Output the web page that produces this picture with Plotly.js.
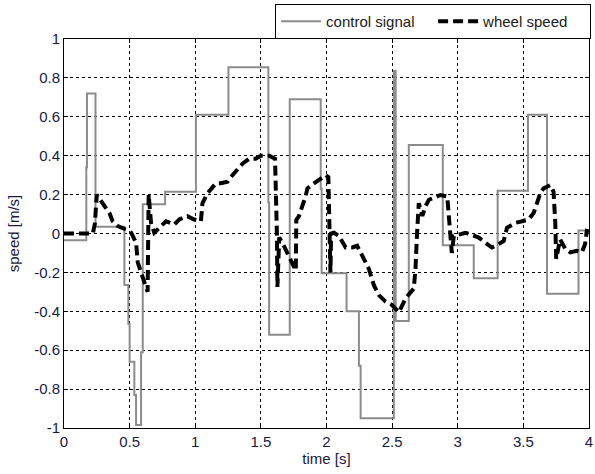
<!DOCTYPE html>
<html>
<head>
<meta charset="utf-8">
<script src="https://cdn.plot.ly/plotly-3.0.1.min.js"></script>
<style>html,body{margin:0;padding:0;background:#fff;}#chart{width:595px;height:474px;}</style>
</head>
<body>
<div id="chart"></div>
<script>
// control signal (step, held until next time)
var controlTime = [0, 0.17, 0.175, 0.24, 0.46, 0.49, 0.50, 0.536, 0.549, 0.587, 0.60, 0.77, 1.005, 1.253, 1.557, 1.563, 1.72, 1.956, 1.963, 2.153, 2.247, 2.26, 2.513, 2.527, 2.627, 2.886, 3.122, 3.304, 3.535, 3.68, 3.92, 4.0];
var controlValue = [-0.035, 0.34, 0.72, 0.035, -0.265, -0.465, -0.66, -0.83, -0.985, -0.61, 0.15, 0.215, 0.61, 0.855, 0.16, -0.52, 0.69, 0.23, -0.205, -0.40, -0.68, -0.95, 0.835, -0.45, 0.455, -0.06, -0.23, 0.22, 0.61, -0.31, 0.015, 0.015];

// wheel speed
var wheelTime = [0, 0.22, 0.235, 0.25, 0.283, 0.32, 0.346, 0.371, 0.41, 0.473, 0.511, 0.549, 0.562, 0.587, 0.63, 0.637, 0.645, 0.663, 0.688, 0.726, 0.777, 0.84, 0.878, 0.94, 0.992, 1.043, 1.055, 1.094, 1.157, 1.195, 1.246, 1.271, 1.31, 1.36, 1.41, 1.46, 1.5, 1.563, 1.608, 1.618, 1.622, 1.626, 1.64, 1.68, 1.72, 1.766, 1.77, 1.79, 1.84, 1.855, 1.905, 1.956, 1.994, 2.014, 2.02, 2.03, 2.035, 2.057, 2.095, 2.146, 2.196, 2.234, 2.272, 2.323, 2.361, 2.399, 2.45, 2.5, 2.551, 2.602, 2.665, 2.678, 2.69, 2.703, 2.73, 2.754, 2.78, 2.817, 2.868, 2.92, 2.93, 2.945, 2.955, 2.97, 3.058, 3.097, 3.16, 3.21, 3.26, 3.31, 3.35, 3.375, 3.44, 3.49, 3.54, 3.578, 3.603, 3.629, 3.654, 3.705, 3.73, 3.743, 3.75, 3.78, 3.82, 3.857, 3.907, 3.945, 3.97, 3.983, 4.0];
var wheelValue = [0, 0.0, 0.05, 0.2, 0.166, 0.13, 0.105, 0.063, 0.038, 0.02, 0.004, -0.047, -0.148, -0.2, -0.283, -0.30, 0.2, 0.055, 0.004, 0.03, 0.063, 0.046, 0.072, 0.089, 0.072, 0.063, 0.156, 0.207, 0.258, 0.258, 0.266, 0.29, 0.317, 0.359, 0.384, 0.384, 0.40, 0.40, 0.384, 0.2, 0.0, -0.275, -0.02, -0.07, -0.13, -0.19, 0.07, 0.09, 0.19, 0.232, 0.258, 0.283, 0.30, 0.29, 0.0, -0.2, 0.0, 0.004, -0.013, -0.072, -0.072, -0.063, -0.114, -0.182, -0.266, -0.317, -0.35, -0.368, -0.405, -0.334, -0.283, -0.182, 0.0, 0.156, 0.09, 0.14, 0.173, 0.182, 0.198, 0.19, 0.122, 0.004, -0.1, -0.013, 0.004, -0.004, -0.021, -0.047, -0.072, -0.055, -0.038, 0.029, 0.055, 0.063, 0.072, 0.105, 0.156, 0.207, 0.232, 0.249, 0.215, 0.055, -0.13, -0.03, -0.08, -0.097, -0.089, -0.097, -0.055, 0.013, 0.01];

var xTickVals = [0, 0.5, 1, 1.5, 2, 2.5, 3, 3.5, 4];
var xTickText = ['0', '0.5', '1', '1.5', '2', '2.5', '3', '3.5', '4'];
var yTickVals = [-1, -0.8, -0.6, -0.4, -0.2, 0, 0.2, 0.4, 0.6, 0.8, 1];
var yTickText = ['-1', '-0.8', '-0.6', '-0.4', '-0.2', '0', '0.2', '0.4', '0.6', '0.8', '1'];

var FONT = 'Liberation Sans, Arial, sans-serif';

var traces = [
  {
    x: controlTime, y: controlValue, type: 'scatter', mode: 'lines',
    line: {shape: 'hv', color: '#8c8c8c', width: 2},
    name: 'control signal'
  },
  {
    x: wheelTime, y: wheelValue, type: 'scatter', mode: 'lines',
    line: {color: '#000000', width: 4, dash: '10px,5px'},
    name: 'wheel speed'
  }
];

var axisCommon = {
  showline: true, mirror: 'ticks', linecolor: '#000', linewidth: 1,
  showgrid: true, gridcolor: '#000', gridwidth: 1, griddash: '3px,3px',
  zeroline: false, ticks: 'inside', ticklen: 4, tickcolor: '#000',
  ticklabeloverflow: 'allow',
  tickfont: {family: FONT, size: 15, color: '#1a1a40'}
};

var layout = {
  width: 595, height: 474,
  margin: {l: 64, r: 4, t: 34, b: 46},
  paper_bgcolor: '#fff', plot_bgcolor: '#fff',
  font: {family: FONT, size: 15, color: '#1a1a1a'},
  showlegend: true,
  legend: {
    orientation: 'h', x: 1.004, xanchor: 'right', y: 1, yanchor: 'bottom',
    bordercolor: '#000', borderwidth: 1, bgcolor: '#fff',
    entrywidth: 102, entrywidthmode: 'pixels', itemwidth: 40,
    font: {family: FONT, size: 15, color: '#1a1a1a'}
  },
  xaxis: Object.assign({}, axisCommon, {
    range: [0, 4], tickmode: 'array', tickvals: xTickVals, ticktext: xTickText,
    title: {text: 'time [s]', font: {family: FONT, size: 15, color: '#1a1a40'}, standoff: 4}
  }),
  yaxis: Object.assign({}, axisCommon, {
    range: [-1, 1], tickmode: 'array', tickvals: yTickVals, ticktext: yTickText,
    title: {text: 'speed [m/s]', font: {family: FONT, size: 15, color: '#1a1a40'}, standoff: 10}
  })
};

Plotly.newPlot('chart', traces, layout, {displayModeBar: false, staticPlot: true});
</script>
</body>
</html>
